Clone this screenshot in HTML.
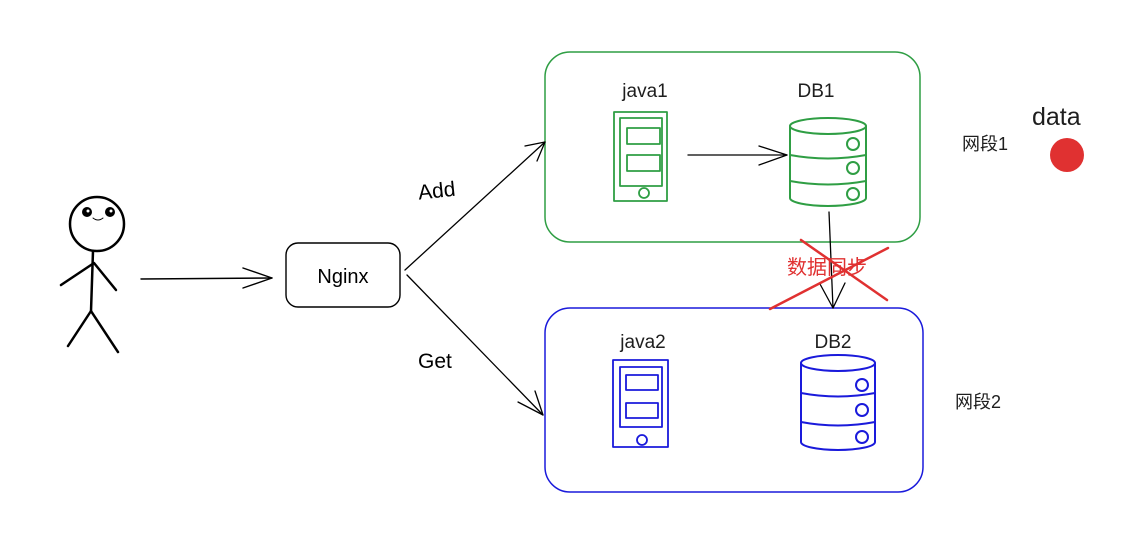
<!DOCTYPE html>
<html><head><meta charset="utf-8"><style>
html,body{margin:0;padding:0;background:#fff;}
svg{display:block}
text{font-family:"Liberation Sans","Noto Sans CJK SC",sans-serif;}
</style></head><body>
<svg width="1147" height="536" viewBox="0 0 1147 536" xmlns="http://www.w3.org/2000/svg" fill="none" stroke-linecap="round" stroke-linejoin="round">
<rect x="545" y="52" width="375" height="190" rx="25" stroke="#2f9e44" stroke-width="1.5"/>
<rect x="545" y="308" width="378" height="184" rx="25" stroke="#1a1adb" stroke-width="1.5"/>
<g stroke="#000" stroke-width="2.5">
<circle cx="97" cy="224" r="27"/>
<line x1="93" y1="251" x2="91" y2="311"/>
<polyline points="61,285 94,263 116,290"/>
<polyline points="68,346 91,311 118,352"/>
</g>
<circle cx="87" cy="212" r="5" fill="#000"/><circle cx="110" cy="212" r="5" fill="#000"/>
<circle cx="88" cy="211" r="1.5" fill="#fff"/><circle cx="111" cy="211" r="1.5" fill="#fff"/>
<path d="M93 218 q5 4 10 0" stroke="#000" stroke-width="1"/>
<g stroke="#000" stroke-width="1.4">
<line x1="141" y1="279" x2="272" y2="278"/>
<polyline points="243,268 272,278 243,288"/>
</g>
<rect x="286" y="243" width="114" height="64" rx="12" stroke="#000" stroke-width="1.4"/>
<text x="343" y="283" font-size="20" fill="#000" text-anchor="middle">Nginx</text>
<g stroke="#000" stroke-width="1.3">
<line x1="405" y1="270" x2="545" y2="142"/>
<polyline points="525,146 545,142 537,161"/>
<line x1="407" y1="275" x2="543" y2="415"/>
<polyline points="518,402 543,415 535,391"/>
<line x1="688" y1="155" x2="787" y2="155"/>
<polyline points="759,146 787,155 759,165"/>
<line x1="829" y1="212" x2="833" y2="308"/>
<polyline points="820,284 833,308 845,283"/>
</g>
<text x="418" y="197" font-size="21" fill="#000" transform="rotate(-6 443 190)">Add</text>
<text x="418" y="368" font-size="21" fill="#000">Get</text>
<g stroke="#2f9e44" stroke-width="1.8">
<rect x="614" y="112" width="53" height="89"/>
<rect x="620" y="118" width="42" height="68"/>
<rect x="627" y="128" width="33" height="16"/>
<rect x="627" y="155" width="33" height="16"/>
<circle cx="644" cy="193" r="5"/>
</g>
<g stroke="#2f9e44" stroke-width="2">
<path d="M790 126 V198 A38 8 0 0 0 866 198 V126"/>
<ellipse cx="828" cy="126" rx="38" ry="8"/>
<path d="M790 155 Q828 162 866 155 M790 181 Q828 188 866 181"/>
<circle cx="853" cy="144" r="6"/><circle cx="853" cy="168" r="6"/><circle cx="853" cy="194" r="6"/>
</g>
<g stroke="#1a1adb" stroke-width="1.8">
<rect x="613" y="360" width="55" height="87"/>
<rect x="620" y="367" width="42" height="60"/>
<rect x="626" y="375" width="32" height="15"/>
<rect x="626" y="403" width="32" height="15"/>
<circle cx="642" cy="440" r="5"/>
</g>
<g stroke="#1a1adb" stroke-width="2">
<path d="M801 363 V442 A37 8 0 0 0 875 442 V363"/>
<ellipse cx="838" cy="363" rx="37" ry="8"/>
<path d="M801 393 Q838 400 875 393 M801 422 Q838 429 875 422"/>
<circle cx="862" cy="385" r="6"/><circle cx="862" cy="410" r="6"/><circle cx="862" cy="437" r="6"/>
</g>
<text x="645" y="97" font-size="19" fill="#1e1e1e" text-anchor="middle">java1</text>
<text x="816" y="97" font-size="19" fill="#1e1e1e" text-anchor="middle">DB1</text>
<text x="643" y="348" font-size="19" fill="#1e1e1e" text-anchor="middle">java2</text>
<text x="833" y="348" font-size="19" fill="#1e1e1e" text-anchor="middle">DB2</text>
<text x="962" y="150" font-size="18" fill="#1e1e1e">网段1</text>
<text x="955" y="408" font-size="18" fill="#1e1e1e">网段2</text>
<text x="1032" y="125" font-size="25" fill="#1e1e1e">data</text>
<circle cx="1067" cy="155" r="17" fill="#e03131"/>
<text x="787" y="274" font-size="20" fill="#e03131">数据同步</text>
<g stroke="#e03131" stroke-width="2.5">
<line x1="801" y1="240" x2="887" y2="300"/>
<line x1="770" y1="309" x2="888" y2="248"/>
</g>
</svg>
</body></html>
